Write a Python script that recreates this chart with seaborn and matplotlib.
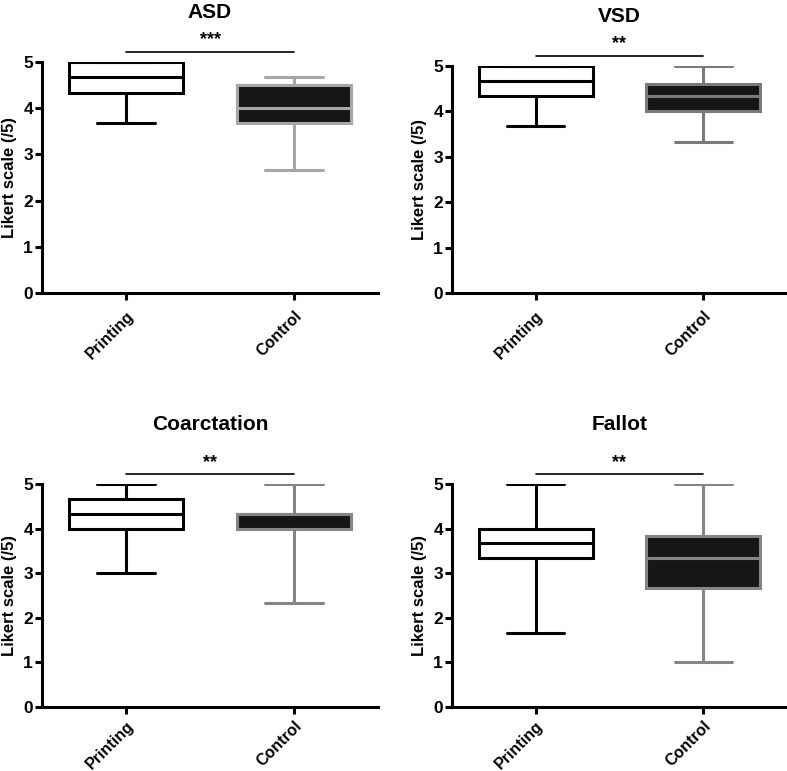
import numpy as np
import pandas as pd
import matplotlib
matplotlib.use("Agg")
import matplotlib.pyplot as plt
import seaborn as sns

sns.set_style("white")
plt.rcParams["font.family"] = ["Liberation Sans", "DejaVu Sans"]
plt.rcParams["font.weight"] = "bold"
plt.rcParams["text.color"] = "black"
plt.rcParams["axes.labelcolor"] = "black"
plt.rcParams["xtick.color"] = "black"
plt.rcParams["ytick.color"] = "black"

groups = ["Printing", "Control"]
panels = ["ASD", "VSD", "Coarctation", "Fallot"]
stars = ["***", "**", "**", "**"]

# five-number summaries (min, Q1, median, Q3, max)
asd_printing = [3.67, 4.33, 4.67, 5.0, 5.0]
asd_control = [2.67, 3.67, 4.0, 4.5, 4.67]
vsd_printing = [3.67, 4.33, 4.67, 5.0, 5.0]
vsd_control = [3.33, 4.0, 4.33, 4.6, 5.0]
coa_printing = [3.0, 4.0, 4.33, 4.67, 5.0]
coa_control = [2.33, 4.0, 4.33, 4.33, 5.0]
fal_printing = [1.67, 3.33, 3.67, 4.0, 5.0]
fal_control = [1.0, 2.67, 3.33, 3.83, 5.0]

printing_vals = [asd_printing, vsd_printing, coa_printing, fal_printing]
control_vals = [asd_control, vsd_control, coa_control, fal_control]
control_edge = ["#a6a6a6", "#7a7a7a", "#858585", "#858585"]

rows = []
for p, pv, cv in zip(panels, printing_vals, control_vals):
    for v in pv:
        rows.append((p, "Printing", v))
    for v in cv:
        rows.append((p, "Control", v))
df = pd.DataFrame(rows, columns=["panel", "group", "score"])

fig = plt.figure(figsize=(7.87, 7.71), dpi=100)
W, H = 787, 771
# axes boxes in pixels: left, right, y0 pixel, y5 pixel
boxes = [(42, 378, 293, 62), (452, 787, 293, 66), (42, 378, 707, 484), (452, 787, 707, 484)]

lw = 2.2
for i, p in enumerate(panels):
    x0, x1, yb, yt = boxes[i]
    ax = fig.add_axes([x0 / W, 1 - yb / H, (x1 - x0) / W, (yb - yt) / H])
    sub = df[df["panel"] == p]
    sns.boxplot(data=sub[sub["group"] == "Printing"], x="group", y="score", order=groups,
                color="white", linecolor="black", saturation=1, whis=(0, 100), width=0.68,
                linewidth=lw, ax=ax)
    sns.boxplot(data=sub[sub["group"] == "Control"], x="group", y="score", order=groups,
                color="#161616", linecolor=control_edge[i], saturation=1, whis=(0, 100), width=0.68,
                linewidth=lw, ax=ax)
    ax.set_xlim(-0.5, 1.5)
    ax.set_ylim(0, 5)
    ax.set_yticks([0, 1, 2, 3, 4, 5])
    sns.despine(ax=ax)
    for s in ["left", "bottom"]:
        ax.spines[s].set_linewidth(lw)
        ax.spines[s].set_color("black")
    ax.tick_params(axis="both", direction="out", length=5, width=lw, color="black",
                   labelsize=12.5, left=True, bottom=True, pad=1.5)
    ax.tick_params(axis="x", pad=6 if i < 2 else 3)
    ax.set_xlabel("")
    ax.set_ylabel("Likert scale (/5)", fontsize=12, fontweight="bold")
    ax.yaxis.set_label_coords(-25 / (x1 - x0), 0.5)
    plt.setp(ax.get_xticklabels(), rotation=45, ha="right", rotation_mode="anchor",
             fontweight="bold", fontsize=11.5)
    plt.setp(ax.get_yticklabels(), fontweight="bold")
    ax.set_title(p, fontsize=15, fontweight="bold", pad=32 if i < 2 else 39)
    ax.plot([0, 1], [5.22, 5.22], color="black", lw=1.2, clip_on=False)
    ax.text(0.5, 5.3, stars[i], ha="center", va="bottom", fontsize=13, fontweight="bold")

fig.savefig("out.png", dpi=100)
